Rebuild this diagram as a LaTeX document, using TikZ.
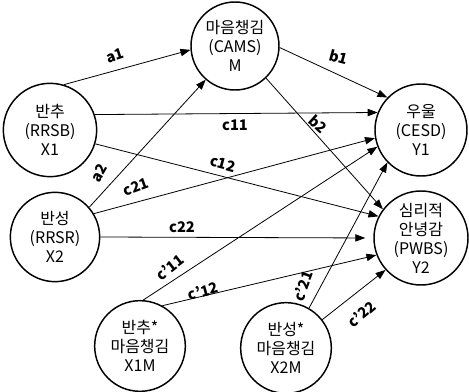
\documentclass[tikz,border=0pt]{standalone}
\usepackage{fontspec}
\setmainfont{Noto Sans CJK KR}
\usetikzlibrary{arrows.meta}
\tikzset{
  circ/.style={circle, draw, line width=1.1pt, inner sep=0pt, minimum size=#1, align=center,
    font=\fontsize{12}{14.3}\selectfont},
  conn/.style={line width=0.6pt, -{Triangle[length=7.5pt,width=5.5pt]}},
  lab/.style={font=\fontsize{11}{12}\selectfont\bfseries, inner sep=0pt}
}
\begin{document}
\begin{tikzpicture}[x=0.75pt,y=-0.75pt]
\useasboundingbox (0,0) rectangle (469,392);
\node[circ=66pt]   (M)   at (235,46)  {마음챙김\\(CAMS)\\M};
\node[circ=70pt]   (X1)  at (50,130)  {반추\\(RRSB)\\X1};
\node[circ=67pt]   (X2)  at (55,237)  {반성\\(RRSR)\\X2};
\node[circ=68pt]   (X1M) at (140,346) {반추*\\마음챙김\\X1M};
\node[circ=68pt]   (X2M) at (286,348) {반성*\\마음챙김\\X2M};
\node[circ=69pt]   (Y1)  at (421,130) {우울\\(CESD)\\Y1};
\node[circ=70.5pt] (Y2)  at (421,238) {심리적\\안녕감\\(PWBS)\\Y2};

\draw[conn] (X1.73)  -- (M.185);
\draw[conn] (X2.41)  -- (M.229);
\draw[conn] (M.358)  -- (Y1.136);
\draw[conn] (M.314)  -- (Y2.143);
\draw[conn] (X1.19)  -- (Y1.158);
\draw[conn] (X1.343) -- (Y2.153);
\draw[conn] (X2.31)  -- (Y1.190);
\draw[conn, shorten >=6pt] (X2.east) -- (Y2.west);
\draw[conn] (X1M.86) -- (Y1.201);
\draw[conn] (X1M.61) -- (Y2.201);
\draw[conn] (X2M.60) -- (Y1.224);
\draw[conn] (X2M.38) -- (Y2.222);

\node[lab, rotate=18]  (la1)  at (115,56)  {a1};
\node[lab, rotate=60]  (la2)  at (99,173)  {a2};
\node[lab, rotate=-15] (lb1)  at (339,57)  {b1};
\node[lab, rotate=-42] (lb2)  at (318,124) {b2};
\node[lab]             (lc11) at (235,125) {c11};
\node[lab, rotate=-15] (lc12) at (223,164) {c12};
\node[lab, rotate=20]  (lc21) at (136,187) {c21};
\node[lab]             (lc22) at (182,227) {c22};
\node[lab, rotate=38]  (ld11) at (170,267) {c'11};
\node[lab, rotate=15]  (ld12) at (203,291) {c'12};
\node[lab, rotate=70]  (ld21) at (303,286) {c'21};
\node[lab, rotate=40]  (ld22) at (362,314) {c'22};
\end{tikzpicture}
\end{document}
